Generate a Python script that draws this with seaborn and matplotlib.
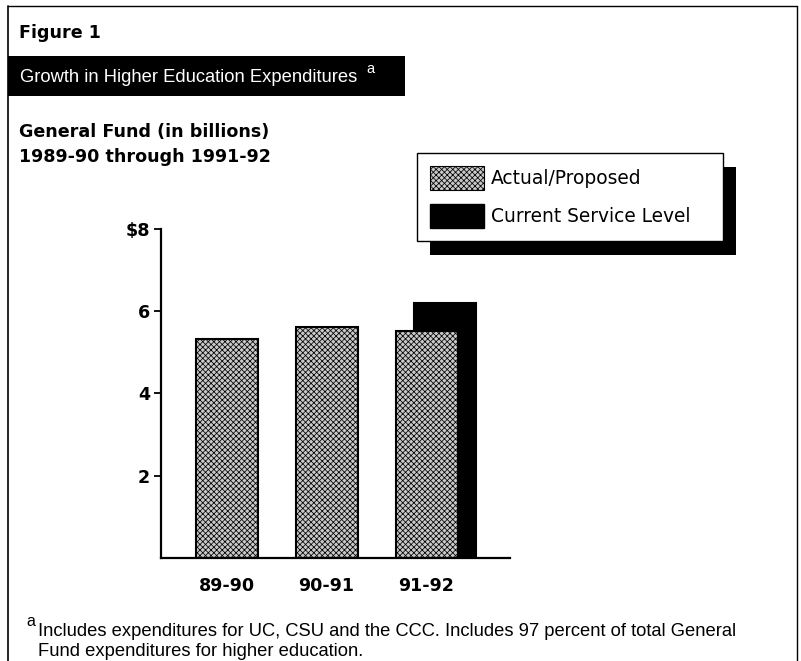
import numpy as np
import pandas as pd
import matplotlib
matplotlib.use("Agg")
import matplotlib.pyplot as plt
import matplotlib.patches as mpatches
from matplotlib.lines import Line2D
from matplotlib import font_manager
import seaborn as sns

# ---------------- data ----------------
years = ["89-90", "90-91", "91-92"]
actual_proposed = [5.32, 5.61, 5.52]
csl_years = ["91-92"]
current_service_level = [6.21]
y_ticks = [2, 4, 6, 8]
y_tick_labels = ["2", "4", "6", "$8"]

series_names = ["Actual/Proposed", "Current Service Level"]
title = "Growth in Higher Education Expenditures"
fig_label = "Figure 1"
subtitle = ["General Fund (in billions)", "1989-90 through 1991-92"]
footnote = ["Includes expenditures for UC, CSU and the CCC. Includes 97 percent of total General",
            "Fund expenditures for higher education."]

# ---------------- style ----------------
sns.set_theme(style="white")
plt.rcParams["font.family"] = ["DejaVu Sans"]
plt.rcParams["text.color"] = "black"
plt.rcParams["axes.labelcolor"] = "black"
plt.rcParams["xtick.color"] = "black"
plt.rcParams["ytick.color"] = "black"
plt.rcParams["hatch.linewidth"] = 0.55


def has_font(name):
    try:
        font_manager.findfont(font_manager.FontProperties(family=name), fallback_to_default=False)
        return True
    except Exception:
        return False


narrow = has_font("Liberation Sans Narrow")
title_family = "Liberation Sans Narrow" if narrow else "Liberation Sans"
title_size = 15.8 if narrow else 13.2
foot_family = "Liberation Sans Narrow" if narrow else "Liberation Sans"
foot_size = 16.0 if narrow else 13.2

W, H = 801, 661
fig = plt.figure(figsize=(W / 100, H / 100), dpi=100)
fig.patch.set_facecolor("white")


def fx(x):
    return x / W


def fy(y):
    return 1 - y / H


# frame
fig.add_artist(Line2D([fx(8), fx(8)], [fy(6), fy(665)], color="black", lw=1.2))
fig.add_artist(Line2D([fx(8), fx(797)], [fy(6), fy(6)], color="black", lw=1.0))
fig.add_artist(Line2D([fx(797), fx(797)], [fy(6), fy(665)], color="black", lw=1.0))

# title bar
fig.add_artist(mpatches.Rectangle((fx(8), fy(96)), fx(405) - fx(8), fy(56) - fy(96),
                                  facecolor="black", edgecolor="none", transform=fig.transFigure))
fig.text(fx(20), fy(77), title, color="white", fontsize=title_size, family=title_family,
         va="center", ha="left")
fig.text(fx(366), fy(69), "a", color="white", fontsize=10.5, family="Liberation Sans",
         va="center", ha="left")

fig.text(fx(19), fy(33), fig_label, fontsize=12.6, weight="bold", va="center", ha="left")
fig.text(fx(19), fy(132), subtitle[0], fontsize=12.6, weight="bold", va="center", ha="left")
fig.text(fx(19), fy(157), subtitle[1], fontsize=12.6, weight="bold", va="center", ha="left")

# footnote
fig.text(fx(26), fy(621), "a", fontsize=11.5, va="center", ha="left", family="Liberation Sans")
fig.text(fx(38), fy(631), footnote[0], fontsize=foot_size, va="center", ha="left", family=foot_family)
fig.text(fx(38), fy(652), footnote[1], fontsize=foot_size, va="center", ha="left", family=foot_family)

# ---------------- axes ----------------
ax = fig.add_axes([fx(161), fy(557.7), fx(510) - fx(161), fy(229) - fy(557.7)])
ax.set_facecolor("white")

bar_w = 0.62
offset = 0.18
pos = {y: i for i, y in enumerate(years)}
ax.bar([pos[y] + offset for y in csl_years], current_service_level, width=bar_w,
       color="black", edgecolor="black", linewidth=1.5, zorder=1)

gray = "#c9c9c9"
df = pd.DataFrame({"year": years, "value": actual_proposed})
sns.barplot(data=df, x="year", y="value", order=years, color=gray, width=bar_w,
            edgecolor="black", linewidth=1.5, hatch="xxxxxx", saturation=1, ax=ax, zorder=2)
for p in ax.patches:
    if p.get_hatch():
        p.set_facecolor(gray)
        p.set_zorder(2)

ax.set_xlim(-0.655, 2.835)
ax.set_ylim(0, 8)
ax.set_xlabel("")
ax.set_ylabel("")
ax.set_yticks(y_ticks)
ax.set_yticklabels(y_tick_labels)
for s in ["top", "right"]:
    ax.spines[s].set_visible(False)
for s in ["left", "bottom"]:
    ax.spines[s].set_visible(True)
    ax.spines[s].set_color("black")
    ax.spines[s].set_linewidth(1.6)
ax.tick_params(axis="y", left=True, length=5, width=1.3, color="black", pad=3,
               labelsize=12.6, labelcolor="black")
ax.tick_params(axis="x", bottom=False, length=0, pad=14, labelsize=12.6, labelcolor="black")
for t in ax.get_xticklabels() + ax.get_yticklabels():
    t.set_fontweight("bold")
ax.grid(False)

# ---------------- legend ----------------
handles = [mpatches.Patch(facecolor=gray, edgecolor="black", hatch="xxxxxx", linewidth=0.8),
           mpatches.Patch(facecolor="black", edgecolor="black")]
leg = fig.legend(handles, series_names, loc="upper left",
                 bbox_to_anchor=(fx(417), fy(241), fx(723) - fx(417), fy(153) - fy(241)),
                 mode="expand", borderaxespad=0, frameon=True, fancybox=False,
                 fontsize=13.4, handlelength=2.9, handleheight=1.6, handletextpad=0.35,
                 labelspacing=0.72, borderpad=0.72, labelcolor="black")
leg.get_frame().set_edgecolor("black")
leg.get_frame().set_linewidth(1.0)
leg.get_frame().set_facecolor("white")
leg.get_frame().set_alpha(1)
leg.set_zorder(5)

fig.canvas.draw()
bb = leg.get_window_extent()
sh_dx, sh_dy = 13, 14
shadow = mpatches.Rectangle(((bb.x0 + sh_dx) / W, (bb.y0 - sh_dy) / H), bb.width / W, bb.height / H,
                            facecolor="black", edgecolor="none", transform=fig.transFigure, zorder=4)
fig.add_artist(shadow)

fig.savefig("out.png", dpi=100, facecolor="white")
